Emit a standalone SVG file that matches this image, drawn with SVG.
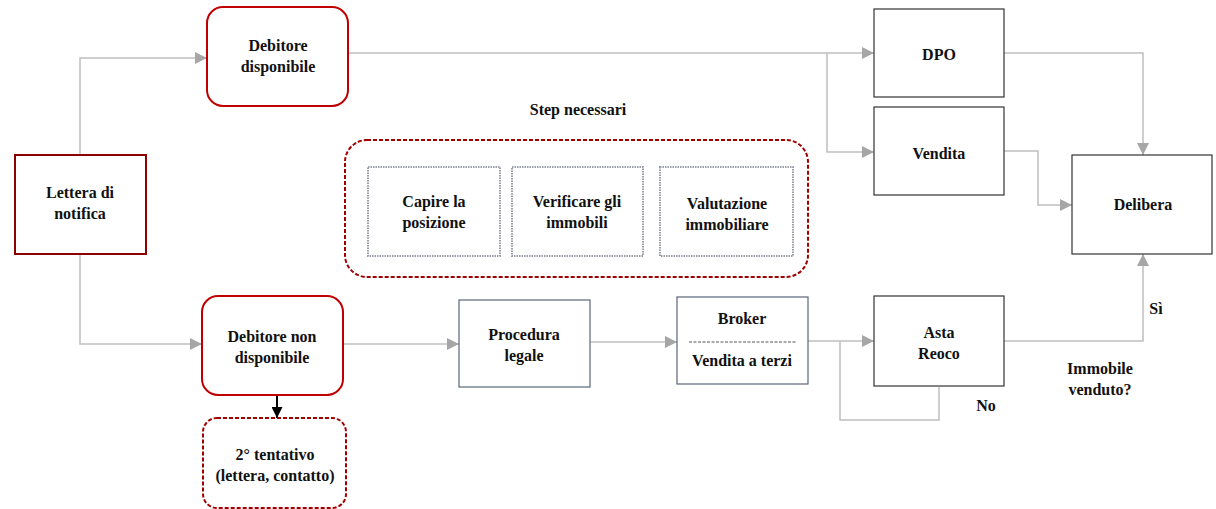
<svg xmlns="http://www.w3.org/2000/svg" width="1216" height="509" viewBox="0 0 1216 509">
<defs>
<marker id="ah" viewBox="0 0 10 10" refX="10" refY="5" markerWidth="12" markerHeight="12" markerUnits="userSpaceOnUse" orient="auto"><path d="M0,0 L10,5 L0,10 z" fill="#a6a6a6"/></marker>
<marker id="ahb" viewBox="0 0 10 10" refX="10" refY="5" markerWidth="11" markerHeight="11" markerUnits="userSpaceOnUse" orient="auto"><path d="M0,0 L10,5 L0,10 z" fill="#000"/></marker>
</defs>
<style>
text{font-family:'Liberation Serif','Times New Roman',serif;font-weight:700;font-size:16px;fill:#111;text-anchor:middle}
.red{fill:#fff;stroke:#c00000;stroke-width:2}
.box{fill:#fff;stroke:#333;stroke-width:1.2}
.blue{fill:#fff;stroke:#5b6678;stroke-width:1.2}
.dot{fill:#fff;stroke:#9a9ea6;stroke-width:2;stroke-dasharray:1.5 1}
.dash{fill:none;stroke:#a00000;stroke-width:2;stroke-dasharray:4 2}
.c{fill:none;stroke:#bfbfbf;stroke-width:1.5}
</style>
<g id="connectors">
<path class="c" d="M80,155 V58 H207" marker-end="url(#ah)"/>
<path class="c" d="M80,254 V344 H202" marker-end="url(#ah)"/>
<path class="c" d="M348,53 H874" marker-end="url(#ah)"/>
<path class="c" d="M827,53 V152 H874" marker-end="url(#ah)"/>
<path class="c" d="M1004,53 H1143 V155" marker-end="url(#ah)"/>
<path class="c" d="M1004,151 H1038 V205 H1072" marker-end="url(#ah)"/>
<path class="c" d="M343,344 H459" marker-end="url(#ah)"/>
<path class="c" d="M590,342 H677" marker-end="url(#ah)"/>
<path class="c" d="M808,341 H874" marker-end="url(#ah)"/>
<path class="c" d="M939,387 V420 H840 V341"/>
<path class="c" d="M1004,341 H1143 V254" marker-end="url(#ah)"/>
<path fill="none" stroke="#000" stroke-width="2" d="M277,395 V418" marker-end="url(#ahb)"/>
</g>
<g id="lettera">
<rect x="15" y="155" width="131" height="99" fill="#fff" stroke="#8b0000" stroke-width="2"/>
<text x="80" y="198">Lettera di</text><text x="80" y="219">notifica</text>
</g>
<g id="debitore-disponibile">
<rect class="red" x="207" y="7" width="141" height="99" rx="16"/>
<text x="278" y="51">Debitore</text><text x="278" y="72">disponibile</text>
</g>
<g id="debitore-non-disponibile">
<rect class="red" x="202" y="296" width="141" height="99" rx="16"/>
<text x="272" y="342">Debitore non</text><text x="272" y="363">disponibile</text>
</g>
<g id="secondo-tentativo">
<rect class="dash" x="203" y="418" width="143" height="90" rx="14"/>
<text x="275" y="460">2° tentativo</text><text x="275" y="481">(lettera, contatto)</text>
</g>
<g id="step-necessari">
<text x="578" y="115">Step necessari</text>
<rect class="dash" x="345" y="140" width="463" height="137" rx="22"/>
</g>
<g id="capire">
<rect class="dot" x="368" y="167" width="132" height="89"/>
<text x="434" y="207">Capire la</text><text x="434" y="228">posizione</text>
</g>
<g id="verificare">
<rect class="dot" x="512" y="167" width="131" height="89"/>
<text x="577" y="207">Verificare gli</text><text x="577" y="228">immobili</text>
</g>
<g id="valutazione">
<rect class="dot" x="660" y="167" width="133" height="89"/>
<text x="727" y="209">Valutazione</text><text x="727" y="230">immobiliare</text>
</g>
<g id="procedura-legale">
<rect class="blue" x="459" y="300" width="131" height="87"/>
<text x="524" y="340">Procedura</text><text x="524" y="361">legale</text>
</g>
<g id="broker">
<rect class="blue" x="677" y="297" width="131" height="87"/>
<text x="742" y="324">Broker</text>
<line x1="689" y1="342" x2="797" y2="342" stroke="#555" stroke-width="1" stroke-dasharray="3 1.5"/>
<text x="742" y="366">Vendita a terzi</text>
</g>
<g id="asta-reoco">
<rect class="box" x="874" y="296" width="130" height="90"/>
<text x="939" y="338">Asta</text><text x="939" y="359">Reoco</text>
</g>
<g id="dpo">
<rect class="box" x="874" y="9" width="130" height="88"/>
<text x="939" y="60">DPO</text>
</g>
<g id="vendita">
<rect class="box" x="874" y="107" width="130" height="88"/>
<text x="939" y="159">Vendita</text>
</g>
<g id="delibera">
<rect class="box" x="1072" y="155" width="140" height="99"/>
<text x="1143" y="210">Delibera</text>
</g>
<g id="labels">
<text x="1156" y="314">Sì</text>
<text x="1100" y="374">Immobile</text><text x="1100" y="395">venduto?</text>
<text x="986" y="411">No</text>
</g>
</svg>
